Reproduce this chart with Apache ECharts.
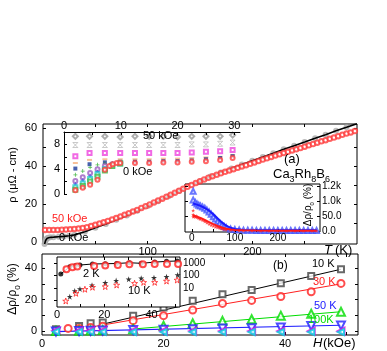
<!DOCTYPE html>
<html>
<head>
<meta charset="utf-8">
<script src="https://cdn.jsdelivr.net/npm/echarts@6/dist/echarts.min.js"></script>
<style>
html, body { margin: 0; padding: 0; background: #fff; }
#main { width: 387px; height: 351px; }
</style>
</head>
<body>
<div id="main"></div>
<script>
// panel (a): rho(T) at 0 kOe (line) and 50 kOe (circles)
var T0 = [1.5, 2, 2.5, 3, 4, 5, 7, 10, 15, 20, 25, 30, 40, 50, 60, 70, 80, 90, 100, 110, 120, 130, 140, 150, 160, 170, 180, 190, 200, 210, 220, 230, 240, 250, 260, 270, 280, 290, 300];
var rho0 = [-1, 0, 0.8, 1.5, 2.0, 2.3, 2.5, 2.6, 2.8, 3.0, 3.3, 3.8, 5.4, 7.5, 9.5, 11.7, 14.0, 16.4, 18.9, 21.5, 24.1, 26.8, 29.4, 32.0, 34.4, 36.6, 38.7, 40.7, 42.7, 44.7, 46.7, 48.7, 50.6, 52.5, 54.5, 56.4, 58.4, 60.3, 62.2];
var T50 = [2, 6, 10, 14, 18, 22, 26, 30, 34, 38, 42, 46, 50, 54, 58, 62, 66, 70, 74, 78, 82, 86, 90, 94, 98, 102, 106, 110, 114, 118, 122, 126, 130, 134, 138, 142, 146, 150, 154, 158, 162, 166, 170, 174, 178, 182, 186, 190, 194, 198, 202, 206, 210, 214, 218, 222, 226, 230, 234, 238, 242, 246, 250, 254, 258, 262, 266, 270, 274, 278, 282, 286, 290, 294, 298];
var rho50 = [6.4, 6.4, 6.4, 6.4, 6.5, 6.6, 6.7, 6.9, 7.1, 7.4, 7.8, 8.4, 9.1, 9.7, 10.4, 11.1, 11.8, 12.6, 13.4, 14.3, 15.1, 16.0, 16.9, 17.9, 18.8, 19.8, 20.8, 21.8, 22.8, 23.8, 24.8, 25.9, 26.9, 28.0, 29.0, 30.0, 31.0, 32.0, 32.9, 33.8, 34.6, 35.4, 36.1, 36.9, 37.6, 38.3, 39.0, 39.7, 40.4, 41.1, 41.8, 42.6, 43.3, 44.0, 44.7, 45.4, 46.1, 46.8, 47.4, 48.1, 48.7, 49.4, 50.1, 50.8, 51.5, 52.2, 52.9, 53.5, 54.2, 54.9, 55.6, 56.3, 57.0, 57.6, 58.3];

// inset (a1): low T, fields 0..50 kOe
var tA1 = [2, 4.5, 7.2, 9.9, 12.5, 15, 17.5, 20, 22.5, 25, 27.5, 29.7];
var a1k50 = [9.3, 9.3, 9.3, 9.2, 9.3, 9.3, 9.3, 9.2, 9.3, 9.3, 9.3, 9.5];
var a1k40 = [7.9, 7.9, 7.9, 7.9, 7.9, 7.9, 7.9, 7.9, 8.0, 8.0, 8.1, 8.3];
var a1k30 = [6.1, 6.6, 6.6, 6.6, 6.6, 6.6, 6.6, 6.6, 6.7, 6.8, 6.9, 7.1];
var a1k25 = [5.0, 5.5, 5.6, 5.6, 5.6, 5.6, 5.7, 5.7, 5.8, 5.9, 6.0, 6.3];
var a1k20 = [4.1, 4.8, 5.1, 5.2, 5.2, 5.2, 5.3, 5.3, 5.4, 5.6, 5.8, 6.1];
var tLow = [2, 3.3, 4.6, 5.9, 7.2, 8.5, 9.9];
var a1k15 = [3.1, 3.7, 4.3, 4.7, 4.9, 5.0, 5.1];
var a1k10 = [2.1, 2.7, 3.4, 4.0, 4.5, 4.8, 5.0];
var a1k5 = [1.6, 2.2, 2.9, 3.6, 4.2, 4.7, 5.0];
var a1k2 = [1.1, 1.7, 2.4, 3.2, 4.0, 4.6, 4.9];
var a1k1 = [0.7, 1.3, 2.0, 2.8, 3.8, 4.5, 4.9];
var tZero = [2, 3.3, 4.6, 5.9, 7.2, 8, 8.6, 9.3, 9.9, 12.5, 15, 17.5, 20, 22.5, 25, 27.5, 29.7];
var a1k0 = [0.6, 1.0, 1.5, 2.3, 3.9, 4.5, 4.8, 5.0, 5.0, 5.0, 5.0, 5.1, 5.1, 5.2, 5.3, 5.5, 5.8];

// inset (a2): MR vs T
var tBlue = [3, 3, 8, 12, 16, 20, 25, 30, 35, 40, 45, 50, 55, 60, 65, 70, 75, 80, 90, 100, 110, 120, 130, 140, 150, 160, 170, 180, 190, 200, 210, 220, 230, 240, 250, 260, 270, 280, 290];
var mrBlue = [133, 104, 95, 90, 86, 84, 80, 76, 70, 64, 56, 48, 40, 33, 26, 20, 15, 11, 7, 5, 4, 3, 3, 3, 2, 2, 2, 2, 2, 2, 2, 2, 2, 2, 2, 2, 2, 2, 2];
var tRed = [3, 3, 3, 5, 8, 10, 12, 15, 18, 20, 25, 30, 35, 40, 45, 50, 55, 60, 65, 70, 75, 80, 90, 100, 110, 120, 140, 160, 180, 200, 220, 240, 260, 280, 290];
var mrRed = [69, 55, 48, 50, 47, 50, 46, 44, 42, 40, 36, 32, 28, 24, 20, 17, 14, 12, 10, 8, 6, 5, 4, 3, 2, 2, 2, 1.5, 1.5, 1.5, 1.5, 1.5, 1.5, 1.5, 1.5];
var tFit = [3, 10, 20, 30, 40, 50, 60, 70, 80, 90, 100, 120, 150, 200, 250, 290];
var fitBlue = [92, 89, 84, 77, 68, 56, 42, 29, 18, 11, 7, 4, 3, 2.5, 2.5, 2.5];
var fitRed = [52, 49, 44, 37, 30, 23, 17, 12, 8, 5.5, 4, 3, 2, 1.5, 1.5, 1.5];

// panel (b): MR vs H
var hB = [2.3, 6.1, 8, 10, 15, 20, 24.8, 29.7, 34.5, 39.3, 44.3, 49.2];
var hB30 = [4.3, 6.1, 8, 10, 15, 20, 24.8, 29.7, 34.5, 39.3, 44.3, 49.2];
var b10K = [1.1, 3.2, 4.9, 5.5, 9.8, 15.0, 19.3, 23.4, 26.1, 30.4, 35.0, 39.3];
var b30K = [1.7, 1.6, 2.2, 3.0, 6.6, 9.8, 13.4, 17.6, 19.5, 22.0, 25.0, 30.3];
var bGreen = [0.0, 0.2, 0.4, 0.6, 1.2, 3.4, 5.0, 6.5, 7.5, 9.8, 11.0, 12.3];
var bBlue = [-0.3, 0.0, 0.2, 0.4, 0.6, 0.8, 1.1, 1.7, 1.8, 2.3, 3.2, 3.6];
var bMag = [0.2, 0.1, 0.2, 0.2, 0.1, 0.1, 0.0, 0.0, 0.0, 0.0, -0.1, -0.1];
var bCyan = [-0.4, -0.5, -0.5, -0.5, -0.6, -0.6, -0.6, -0.6, -0.6, -0.6, -0.6, -0.6];
var fit10H = [10, 49.2], fit10 = [4.4, 39.3];
var fit30H = [8, 49.2], fit30 = [2.5, 30.0];
var fitGH = [15, 49.2], fitG = [1.3, 12.3];
var fitBH = [2, 49.2], fitB = [-0.3, 3.7];

// inset (b): log MR vs H at 2 K and 10 K
var h2a = [1.6, 5.4, 7.7, 9.7, 15, 20.4, 25.2, 30.6, 35.6, 41.3, 46.3, 50.8];
var mr2a = [138, 550, 660, 750, 910, 960, 1000, 1150, 1040, 1300, 1500, 1600];
var h2b = [4, 6.5, 8.6, 15.7, 20.4, 25.7, 30.6, 36.3, 41.3, 46.5, 51.2];
var mr2b = [340, 490, 560, 625, 700, 750, 850, 850, 900, 900, 900];
var h10a = [5.4, 7.5, 9.7, 14.8, 20.4, 25, 30.3, 35.6, 41, 46.3, 51];
var mr10a = [1.95, 5.8, 8.3, 17, 27, 40, 52, 62, 69, 83, 115];
var h10b = [3.7, 8, 11.8, 15, 20.4, 25.2, 32.8, 36.6, 41.3, 46.3, 50.8];
var mr10b = [0.87, 3.7, 7.9, 11.5, 13, 17.5, 24, 29, 29, 37, 45];

var FONT = '"Liberation Sans", Arial, sans-serif';
var STAR = 'path://M50,2 L61,36 L97,36 L68,57 L79,92 L50,71 L21,92 L32,57 L3,36 L39,36 Z';
var BOWTIE = 'path://M0,0 L10,0 L5,5 L10,10 L0,10 L5,5 Z';
var PLUS = 'path://M4,0 L6,0 L6,4 L10,4 L10,6 L6,6 L6,10 L4,10 L4,6 L0,6 L0,4 L4,4 Z';

function pairs(xs, ys) {
    return xs.map(function (x, i) { return [x, ys[i]]; });
}

function axis(gi, pos, min, max, ticks, labels, o) {
    o = o || {};
    return {
        type: o.type || 'value', gridIndex: gi, position: pos, min: min, max: max,
        z: o.z || 0,
        axisLine: { show: !!o.line, onZero: false, lineStyle: { color: '#000', width: 1 } },
        axisTick: { show: !!ticks, inside: true, length: o.tl || 3, customValues: ticks || undefined, lineStyle: { color: '#000' } },
        axisLabel: {
            show: !!labels, customValues: labels || undefined, margin: o.margin == null ? 3 : o.margin,
            fontFamily: FONT, fontSize: o.fs || 11, color: '#000', formatter: o.fmt
        },
        splitLine: { show: false }
    };
}

function sc(xs, ys, xi, yi, sym, size, color, o) {
    o = o || {};
    return {
        type: 'scatter', xAxisIndex: xi, yAxisIndex: yi, data: pairs(xs, ys),
        symbol: sym, symbolSize: size, symbolRotate: o.rot || 0, z: o.z || 2, silent: true,
        itemStyle: o.hollow ? { color: 'rgba(0,0,0,0)', borderColor: color, borderWidth: o.bw || 1 }
                            : { color: color, borderWidth: sym.indexOf('empty') === 0 ? (o.bw || 1) : 0 }
    };
}

function ln(xs, ys, xi, yi, color, width, z) {
    return {
        type: 'line', xAxisIndex: xi, yAxisIndex: yi, data: pairs(xs, ys), showSymbol: false,
        lineStyle: { color: color, width: width }, z: z || 2, silent: true
    };
}

function txt(s, x, y, o) {
    o = o || {};
    return {
        type: 'text', x: x, y: y, z: 20, rotation: o.rot || 0,
        style: {
            text: s, fill: o.color || '#000', font: (o.italic ? 'italic ' : '') + (o.size || 11) + 'px ' + FONT,
            textAlign: o.align || 'left', textVerticalAlign: 'middle', rich: o.rich
        }
    };
}

var subRich = function (size) {
    return {
        n: { fontSize: size, fontFamily: FONT, color: '#000', verticalAlign: 'top' },
        s: { fontSize: size - 4, fontFamily: FONT, color: '#000', verticalAlign: 'top', padding: [Math.round(size * 0.55), 0, 0, 0] }
    };
};

var chart = echarts.init(document.getElementById('main'), null, { renderer: 'canvas' });

var a2fmt = function (v) {
    return { 0: '0.0', 50: '50.0', 100: '1.0k', 150: '1.2k' }[Math.round(v)] || '';
};
var logfmt = function (v) {
    var r = Math.round(v);
    return (r === 10 || r === 100 || r === 1000) && Math.abs(v - r) < 0.01 ? String(r) : '';
};

var option = {
    animation: false,
    backgroundColor: '#fff',
    grid: [
        { left: 43, top: 124, width: 314, height: 120, show: true, borderColor: '#000', borderWidth: 1, backgroundColor: 'transparent' },
        { left: 64, top: 132, width: 176, height: 62, show: false },
        { left: 185, top: 184, width: 135, height: 48, show: true, borderColor: '#000', borderWidth: 1, backgroundColor: '#fff', z: 3 },
        { left: 42, top: 254, width: 316, height: 81, show: true, borderColor: '#000', borderWidth: 1, backgroundColor: 'transparent' },
        { left: 57, top: 257, width: 123, height: 50, show: true, borderColor: '#000', borderWidth: 1, backgroundColor: '#fff', z: 3 }
    ],
    xAxis: [
        axis(0, 'bottom', 0, 300, [50, 100, 150, 200, 250], [100, 200], { margin: 2 }),
        axis(0, 'top', 0, 300, [50, 100, 150, 200, 250], null),
        axis(1, 'top', 0, 31, [0, 5, 10, 15, 20, 25, 30], [0, 10, 20, 30], { line: true, margin: 1, z: 5 }),
        axis(2, 'bottom', -16, 298, [0, 50, 100, 150, 200, 250], [0, 100, 200], { margin: 1, z: 5, fs: 10 }),
        axis(3, 'bottom', 0, 52, [10, 20, 30, 40, 50], [0, 20, 40], { margin: 3 }),
        axis(3, 'top', 0, 52, [10, 20, 30, 40, 50], null),
        axis(4, 'bottom', 0, 52, [10, 20, 30, 40, 50], [0, 20, 40], { margin: 2, z: 5 }),
        axis(4, 'top', 0, 52, [10, 20, 30, 40, 50], null, { z: 5 })
    ],
    yAxis: [
        axis(0, 'left', -1, 62, [10, 20, 30, 40, 50, 60], [0, 20, 40, 60], { margin: 6 }),
        axis(0, 'right', -1, 62, [10, 20, 30, 40, 50, 60], null),
        axis(1, 'left', 0, 10, [0, 2, 4, 6, 8], [0, 4, 8], { line: true, margin: 4 }),
        axis(2, 'right', -3, 157, [50, 100, 150], [0, 50, 100, 150], { margin: 2, z: 5, fs: 10, fmt: a2fmt }),
        axis(2, 'left', -3, 157, [50, 100, 150], null, { z: 5 }),
        axis(3, 'left', -2.5, 49, [0, 10, 20, 30, 40], [0, 20, 40], { margin: 5 }),
        axis(3, 'right', -2.5, 49, [0, 10, 20, 30, 40], null),
        {
            type: 'log', gridIndex: 4, position: 'right', min: 0.28, max: 3400, logBase: 10, z: 5,
            axisLine: { show: false },
            axisTick: { show: true, inside: true, length: 3, lineStyle: { color: '#000' } },
            axisLabel: { show: true, margin: 3, fontFamily: FONT, fontSize: 10, color: '#000', formatter: logfmt, showMinLabel: false, showMaxLabel: false },
            splitLine: { show: false }
        }
    ],
    series: [
        // panel (a)
        sc(T0, rho0, 0, 0, 'emptyCircle', 4, '#aaa', { z: 1 }),
        ln(T0, rho0, 0, 0, '#000', 1.6, 2),
        sc(T50, rho50, 0, 0, 'emptyCircle', 4.5, '#ff3b3b', { z: 3, bw: 0.7 }),
        // inset (a1)
        sc(tA1, a1k50, 2, 2, 'emptyDiamond', 5, '#999', { bw: 0.8 }),
        sc(tA1, a1k40, 2, 2, BOWTIE, 5, '#aaa', { hollow: true, bw: 0.8 }),
        sc(tA1, a1k30, 2, 2, 'emptyRect', 4, '#ee44dd', { bw: 0.8 }),
        sc(tA1, a1k25, 2, 2, 'rect', [5, 2], '#f5b080'),
        sc(tA1, a1k20, 2, 2, 'rect', 4, '#1a3a9a'),
        sc(tLow, a1k15, 2, 2, PLUS, 4, '#22aa22'),
        sc(tLow, a1k10, 2, 2, 'emptyCircle', 4, '#9a5fc0', { bw: 0.8 }),
        sc(tLow, a1k5, 2, 2, STAR, 5, '#3355ee'),
        sc(tLow, a1k2, 2, 2, 'emptyRect', 4, '#22cccc', { bw: 0.8 }),
        sc(tLow, a1k1, 2, 2, 'emptyRect', 4, '#44bb44', { bw: 0.8 }),
        sc(tZero, a1k0, 2, 2, 'emptyCircle', 4, '#ff4040', { bw: 0.8 }),
        // inset (a2)
        sc(tBlue, mrBlue, 3, 3, 'emptyTriangle', 5, '#4455ff', { z: 4, bw: 0.8 }),
        sc(tRed, mrRed, 3, 3, STAR, 4, '#ff2020', { z: 4 }),
        ln(tFit, fitBlue, 3, 3, '#1a1aff', 2, 5),
        ln(tFit, fitRed, 3, 3, '#ff1a1a', 2, 5),
        // panel (b)
        ln(fit10H, fit10, 4, 5, '#000', 1, 2),
        ln(fit30H, fit30, 4, 5, '#ff2020', 1, 2),
        ln(fitGH, fitG, 4, 5, '#00dd00', 1, 2),
        ln(fitBH, fitB, 4, 5, '#2020ff', 1.2, 2),
        sc(hB, b10K, 4, 5, 'emptyRect', 6, '#444'),
        sc(hB30, b30K, 4, 5, 'emptyCircle', 7, '#ff2020'),
        sc(hB, bGreen, 4, 5, 'emptyTriangle', 8, '#00dd00'),
        sc(hB, bBlue, 4, 5, 'emptyTriangle', 8, '#2020ff', { rot: 180 }),
        sc(hB, bMag, 4, 5, 'emptyTriangle', 7, '#e000e0', { rot: 90 }),
        sc(hB, bCyan, 4, 5, 'emptyTriangle', 6, '#00d0e0', { rot: 90 }),
        // inset (b)
        ln(h2a, mr2a, 6, 7, '#000', 1, 5),
        sc(h2a, mr2a, 6, 7, 'circle', 5, '#000', { z: 5 }),
        sc(h2b, mr2b, 6, 7, 'emptyCircle', 6, '#ff2020', { z: 5 }),
        sc(h10a, mr10a, 6, 7, STAR, 6, '#000', { z: 5 }),
        sc(h10b, mr10b, 6, 7, STAR, 6, '#ff2020', { z: 5, hollow: true })
    ],
    graphic: [
        txt('ρ (μΩ - cm)', 13, 175, { rot: Math.PI / 2, align: 'center', size: 11 }),
        txt('{n|Δρ/ρ}{s|0}{n| (%)}', 14, 289, { rot: Math.PI / 2, align: 'center', rich: subRich(12) }),
        txt('T', 324, 250, { italic: true, size: 13 }),
        txt('(K)', 335, 250, { size: 13 }),
        txt('H', 313, 343, { italic: true, size: 13 }),
        txt('(kOe)', 323, 343, { size: 13 }),
        txt('50 kOe', 52, 219, { color: '#ff2020', size: 11 }),
        txt('0 kOe', 59, 238, { size: 11 }),
        txt('50 kOe', 143, 136, { size: 11 }),
        txt('0 kOe', 123, 172, { size: 11 }),
        txt('(a)', 284, 159, { size: 13 }),
        txt('{n|Ca}{s|3}{n|Rh}{s|8}{n|B}{s|6}', 273, 176, { rich: subRich(13) }),
        txt('{n|Δρ/ρ}{s|0}{n| (%)}', 309, 205, { rot: Math.PI / 2, align: 'center', rich: subRich(10) }),
        txt('(b)', 273, 266, { size: 12 }),
        txt('10 K', 312, 264, { size: 11 }),
        txt('30 K', 313, 282, { size: 11, color: '#ff2020' }),
        txt('50 K', 314, 306, { size: 11, color: '#2020ff' }),
        txt('100K', 308, 320, { size: 11, color: '#00dd00' }),
        txt('2 K', 83, 274, { size: 11 }),
        txt('10 K', 128, 291, { size: 11 })
    ]
};

chart.setOption(option);
</script>
</body>
</html>
